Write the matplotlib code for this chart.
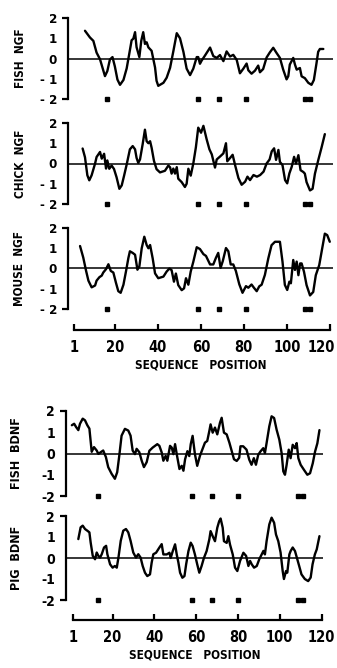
import matplotlib
matplotlib.use('Agg')
import matplotlib.pyplot as plt
import matplotlib.transforms as mtransforms

# ---------------- data ----------------
fish_ngf_pos = [6.1, 8.4, 10.0, 11.5, 13.1, 15.4, 16.5, 17.7, 18.9, 20.0, 21.2, 22.4, 24.0, 25.5, 27.0,
                27.8, 28.6, 29.4, 30.1, 31.4, 32.3, 33.2, 34.0, 34.8, 35.6, 37.1, 38.7, 39.4, 40.2, 42.6,
                44.1, 45.7, 47.2, 48.8, 50.3, 51.9, 53.4, 55.0, 56.5, 58.1, 58.8, 59.6, 60.4, 61.9, 64.3,
                65.8, 67.4, 68.9, 70.5, 72.0, 73.6, 75.1, 76.7, 78.2, 79.8, 81.3, 82.1, 83.6, 85.2, 86.7,
                87.5, 89.0, 90.6, 92.1, 93.7, 95.2, 96.8, 98.3, 99.9, 100.7, 101.4, 103.0, 103.8, 104.6,
                106.1, 106.9, 108.4, 110.0, 111.5, 112.6, 113.8, 114.6, 115.4, 117.0]
fish_ngf_val = [1.37, 1.04, 0.87, 0.29, -0.04, -0.87, -0.62, -0.05, 0.07, -0.39, -1.04, -1.30, -1.06, -0.49, 0.41,
                0.90, 0.98, 1.30, 0.56, 0.07, 0.88, 1.30, 0.72, 0.80, 0.55, 0.38, -0.44, -1.10, -1.35, -1.20,
                -0.95, -0.46, 0.35, 1.25, 1.00, 0.33, -0.50, -0.82, -0.50, 0.07, 0.07, -0.26, -0.10, 0.14, 0.54,
                0.12, 0.03, 0.17, -0.13, 0.35, 0.10, 0.18, -0.07, -0.73, -0.50, -0.25, -0.58, -0.75, -0.60, -0.35,
                -0.68, -0.52, 0.05, 0.30, 0.53, 0.28, 0.03, -0.54, -1.03, -0.87, -0.30, 0.03, -0.30, -0.55,
                -0.47, -0.88, -0.97, -1.20, -1.30, -1.06, -0.25, 0.33, 0.47, 0.47]

chick_ngf_pos = [5.0, 6.1, 7.2, 8.1, 9.2, 10.8, 11.5, 13.1, 13.9, 15.0,
                 15.9, 16.5, 17.4, 18.5, 19.6, 20.8, 22.1, 23.2, 24.3, 25.5,
                 27.0, 28.3, 29.4, 30.1, 30.9, 31.7, 32.9, 34.0, 34.8, 35.6,
                 36.4, 37.1, 38.2, 39.4, 41.0, 43.3, 44.9, 45.7, 46.4, 47.2,
                 48.0, 48.8, 49.5, 51.1, 52.6, 53.4, 54.2, 55.3, 56.5, 57.7,
                 58.8, 60.1, 61.2, 62.7, 64.0, 65.1, 66.6, 67.4, 69.0, 70.5,
                 71.7, 72.3, 73.6, 74.8, 75.9, 77.5, 79.0, 80.6, 81.7, 82.9,
                 84.5, 86.1, 87.6, 89.2, 90.6, 92.0, 93.0, 94.1, 95.0, 96.1,
                 96.8, 98.0, 99.2, 100.2, 101.2, 102.3, 103.4, 104.3, 105.4, 106.4,
                 107.7, 108.4, 109.2, 110.8, 112.0, 113.1, 114.6, 116.2, 117.7]
chick_ngf_val = [0.74, 0.31, -0.58, -0.83, -0.58, 0.0, 0.32, 0.57, 0.24, 0.48,
                 -0.25, 0.15, -0.26, -0.10, -0.27, -0.68, -1.25, -1.08, -0.60, -0.05,
                 0.70, 0.86, 0.70, 0.28, 0.03, 0.20, 0.93, 1.67, 1.10, 1.00,
                 1.10, 0.78, 0.13, -0.28, -0.44, -0.36, -0.10, -0.19, -0.50, -0.25,
                 -0.50, -0.18, -0.75, -0.92, -1.16, -1.00, -0.26, -0.60, 0.0, 0.80,
                 1.77, 1.52, 1.86, 1.20, 0.70, 0.45, -0.20, 0.20, 0.35, 0.50,
                 1.00, 0.11, 0.27, 0.43, -0.06, -0.72, -1.05, -0.90, -0.65, -0.82,
                 -0.57, -0.65, -0.57, -0.40, 0.0, 0.20, 0.60, 0.75, 0.18, 0.67,
                 0.08, -0.08, -0.82, -0.98, -0.49, -0.16, 0.33, 0.0, 0.41, -0.33,
                 -0.42, -0.50, -0.92, -1.33, -1.25, -0.50, 0.15, 0.80, 1.45]

mouse_ngf_pos = [3.8, 5.3, 6.6, 7.7, 9.2, 10.8, 11.5, 12.8, 13.9, 14.6,
                 15.9, 17.0, 18.1, 19.3, 20.5, 21.6, 22.7, 24.0, 25.2, 26.3,
                 27.0, 28.3, 29.4, 30.5, 31.4, 32.5, 33.7, 34.8, 35.6, 36.4,
                 37.6, 38.7, 40.2, 42.6, 44.1, 45.4, 46.4, 47.5, 48.4, 49.5,
                 51.1, 52.2, 53.1, 54.2, 55.3, 56.5, 58.1, 59.6, 61.2, 62.4,
                 64.3, 65.8, 67.0, 68.1, 69.2, 70.2, 71.7, 72.8, 73.9, 75.1,
                 76.3, 77.9, 79.4, 81.0, 82.1, 83.6, 84.7, 86.0, 87.2, 88.3,
                 89.8, 91.4, 92.9, 94.5, 96.8, 98.0, 99.1, 100.2, 101.2, 101.9,
                 103.0, 103.8, 104.6, 105.4, 106.2, 106.9, 108.0, 109.2, 110.8, 112.3,
                 113.5, 115.1, 116.2, 117.7, 118.8, 120.0]
mouse_ngf_val = [1.11, 0.54, -0.11, -0.60, -0.93, -0.84, -0.60, -0.43, -0.35, -0.20,
                 -0.03, 0.21, -0.12, -0.20, -0.70, -1.12, -1.20, -0.80, -0.13, 0.52,
                 0.85, 0.77, 0.68, -0.06, 0.10, 1.00, 1.57, 1.16, 1.00, 1.16,
                 0.50, -0.24, -0.48, -0.40, -0.15, 0.0, -0.08, -0.65, -0.25, -0.82,
                 -1.07, -0.98, -0.48, -0.80, -0.15, 0.33, 1.05, 0.96, 0.71, 0.62,
                 0.20, 0.20, 0.52, 0.77, 0.03, 0.36, 1.01, 0.85, 0.20, 0.20,
                 -0.12, -0.78, -1.20, -0.87, -0.95, -0.79, -0.95, -1.12, -0.88, -0.80,
                 -0.32, 0.50, 1.15, 1.32, 1.32, 0.34, -0.81, -1.06, -0.65, -0.73,
                 0.42, -0.07, 0.34, -0.33, 0.25, 0.25, -0.16, -0.82, -1.33, -1.16,
                 -0.33, 0.17, 0.83, 1.72, 1.65, 1.32]

fish_bdnf_pos = [0.5, 1.6, 2.5, 3.6, 4.4, 5.7, 6.8, 7.9, 8.9, 10.0,
                 11.1, 12.4, 13.2, 14.3, 15.5, 16.8, 17.9, 19.5, 21.1, 22.2,
                 23.2, 24.3, 25.9, 27.5, 28.6, 29.6, 30.7, 31.5, 32.8, 33.9,
                 35.0, 36.3, 37.6, 39.2, 40.3, 41.4, 42.4, 43.5, 44.3, 45.4,
                 46.2, 47.5, 48.3, 49.1, 49.9, 50.7, 52.0, 53.1, 53.9, 54.7,
                 55.8, 56.7, 57.4, 58.3, 59.4, 60.5, 61.8, 63.0, 64.2, 65.3,
                 66.3, 66.9, 67.9, 69.0, 70.1, 71.4, 72.2, 73.3, 74.6, 75.9,
                 77.0, 78.1, 79.4, 80.6, 81.2, 82.5, 84.1, 85.4, 86.5, 87.6,
                 88.6, 89.7, 90.8, 92.1, 92.9, 93.7, 95.0, 96.1, 97.3, 98.5,
                 99.8, 100.9, 101.7, 102.5, 103.3, 104.3, 105.2, 106.2, 107.3, 108.1,
                 108.9, 110.0, 111.6, 113.2, 114.5, 115.8, 116.9, 118.0, 119.0]
fish_bdnf_val = [1.33, 1.40, 1.25, 1.10, 1.40, 1.64, 1.56, 1.33, 1.17, 0.08,
                 0.30, 0.14, -0.02, 0.06, 0.14, -0.17, -0.64, -0.95, -1.19, -0.88,
                 -0.10, 0.84, 1.16, 1.08, 0.84, 0.14, -0.03, 0.22, 0.06, -0.33,
                 -0.64, -0.41, 0.13, 0.28, 0.36, 0.44, 0.36, 0.05, -0.34, -0.11,
                 -0.34, 0.36, 0.28, -0.03, 0.44, -0.03, -0.73, -0.58, -0.81, -0.27,
                 0.11, -0.12, 0.44, 0.83, -0.03, -0.58, -0.11, 0.20, 0.51, 0.59,
                 1.06, 1.37, 0.98, 1.22, 0.90, 1.45, 1.68, 0.98, 0.90, 0.51,
                 0.12, -0.27, -0.35, -0.20, 0.34, 0.34, 0.18, -0.29, -0.53, -0.22,
                 -0.53, -0.06, 0.10, 0.25, 0.02, 0.49, 1.28, 1.75, 1.67, 1.12,
                 0.65, 0.02, -0.84, -1.00, -0.53, 0.18, -0.22, 0.41, 0.25, 0.49,
                 -0.22, -0.53, -0.77, -1.00, -0.93, -0.46, 0.09, 0.48, 1.10]

pig_bdnf_pos = [3.6, 4.7, 5.7, 6.8, 7.9, 8.9, 9.5, 10.5, 11.6, 12.4,
                13.2, 14.0, 14.8, 15.9, 16.9, 17.5, 18.8, 20.0, 21.1, 22.0,
                22.8, 23.9, 25.1, 26.4, 27.5, 28.6, 29.9, 31.2, 32.3, 33.4,
                34.4, 35.5, 36.6, 37.9, 38.7, 39.5, 40.8, 42.4, 43.5, 44.3,
                45.9, 47.2, 47.8, 48.8, 49.9, 50.7, 51.5, 52.3, 53.4, 54.4,
                55.2, 56.3, 57.4, 58.3, 59.4, 60.5, 61.5, 62.6, 63.7, 65.0,
                66.3, 66.9, 67.9, 69.0, 70.1, 71.0, 71.7, 72.7, 73.3, 74.6,
                75.4, 76.2, 77.5, 78.6, 79.7, 81.0, 82.6, 83.9, 85.0, 85.8,
                86.6, 87.7, 89.0, 90.2, 91.4, 92.2, 92.9, 93.7, 95.0, 96.1,
                97.3, 98.2, 99.3, 100.4, 101.4, 102.0, 103.0, 103.6, 104.6, 105.2,
                106.2, 107.3, 108.4, 109.3, 110.4, 112.0, 113.6, 114.8, 115.7, 116.8,
                117.7, 118.5, 119.0]
pig_bdnf_val = [0.90, 1.46, 1.54, 1.38, 1.30, 1.22, 0.74, 0.10, -0.06, 0.26,
                0.10, 0.02, 0.18, 0.50, 0.58, 0.18, -0.30, -0.46, -0.38, -0.46,
                0.02, 0.82, 1.30, 1.38, 1.22, 0.82, 0.26, 0.02, 0.18, 0.02,
                -0.38, -0.70, -0.86, -0.78, -0.22, 0.18, 0.25, 0.50, 0.66, 0.17,
                0.17, 0.25, 0.00, 0.33, 0.65, 0.17, -0.22, -0.70, -0.94, -0.86,
                -0.30, 0.33, 0.73, 0.57, 0.17, -0.30, -0.70, -0.38, 0.00, 0.33,
                0.89, 1.28, 1.04, 0.80, 1.44, 1.75, 1.88, 1.44, 0.80, 0.72,
                1.04, 0.64, 0.17, -0.46, -0.62, -0.14, 0.25, 0.10, -0.38, -0.14,
                -0.30, -0.46, -0.38, -0.06, 0.18, 0.34, 0.17, 0.80, 1.60, 1.92,
                1.68, 1.12, 0.80, 0.26, -0.62, -1.00, -0.62, -0.70, 0.17, 0.33,
                0.50, 0.33, -0.06, -0.38, -0.78, -1.00, -1.10, -0.93, -0.30, 0.17,
                0.41, 0.80, 1.04]

ngf_cys = [16.5, 58.8, 68.4, 80.8, 108.4, 110.8]
bdnf_cys = [12.9, 58.2, 67.8, 79.9, 108.7, 111.0]

ytick_vals = [-2, -1, 0, 1, 2]
ytick_labels_top = ['- 2', '- 1', '0', '1', '2']
ytick_labels_bot = ['-2', '-1', '0', '1', '2']
xtick_vals = [1, 20, 40, 60, 80, 100, 120]
xtick_labels = ['1', '20', '40', '60', '80', '100', '120']

# ---------------- drawing ----------------
W, H = 337, 668
plt.rcParams['font.family'] = ['DejaVu Sans']
plt.rcParams['font.weight'] = 'bold'
plt.rcParams['font.stretch'] = 'condensed'

fig = plt.figure(figsize=(W / 100, H / 100), dpi=100)
fig.patch.set_facecolor('white')


def ax_at(left, top, right, bottom):
    return fig.add_axes([left / W, 1 - bottom / H, (right - left) / W, (bottom - top) / H])


def panel(left, right, top, bottom, xlim, pos, vals, dots, label, label_x, ylabels, lsize, tsize):
    ax = ax_at(left, top, right, bottom)
    ax.set_xlim(*xlim)
    ax.set_ylim(-2, 2)
    ax.patch.set_visible(False)
    for s in ['top', 'right', 'bottom']:
        ax.spines[s].set_visible(False)
    ax.spines['left'].set_linewidth(1.6)
    ax.axhline(0, color='black', lw=1.1)
    ax.plot(pos, vals, color='black', lw=1.7, clip_on=False,
            solid_joinstyle='round', solid_capstyle='round')
    ax.plot(dots, [-2] * len(dots), 's', color='black', ms=3.0, clip_on=False)
    ax.set_xticks([])
    ax.set_yticks(ytick_vals)
    ax.set_yticklabels(ylabels)
    ax.tick_params(axis='y', length=4, width=1.6, pad=4, labelsize=tsize)
    for t in ax.yaxis.get_major_ticks()[1:4]:
        t.tick1line.set_visible(False)
    fig.text(label_x / W, 1 - (top + bottom) / 2 / H, label, rotation=90,
             ha='center', va='center', fontsize=lsize, fontweight='bold')
    return ax


def xaxis(left, right, y, xlim, size, tuck_last=False):
    ax = ax_at(left, y - 2, right, y)
    ax.set_xlim(*xlim)
    ax.set_ylim(0, 1)
    ax.patch.set_visible(False)
    for s in ['top', 'right', 'left']:
        ax.spines[s].set_visible(False)
    ax.spines['bottom'].set_linewidth(1.6)
    ax.spines['bottom'].set_bounds(1, 120)
    ax.set_xticks(xtick_vals)
    ax.set_xticklabels(xtick_labels)
    ax.set_yticks([])
    ax.tick_params(axis='x', direction='in', length=4, width=1.6, pad=7, labelsize=size)
    ax.set_xlabel('SEQUENCE   POSITION', fontsize=8.5, fontweight='bold', labelpad=3)
    if tuck_last:
        lab = ax.get_xticklabels()[-1]
        lab.set_horizontalalignment('right')
        lab.set_transform(lab.get_transform() +
                          mtransforms.ScaledTranslation(5 / 100, 0, fig.dpi_scale_trans))
    return ax


top_xlim = (-1.8, 121.5)
panel(68, 333, 18, 99, top_xlim, fish_ngf_pos, fish_ngf_val, ngf_cys, 'FISH  NGF', 20,
      ytick_labels_top, 8.5, 9.5)
panel(68, 333, 123, 204, top_xlim, chick_ngf_pos, chick_ngf_val, ngf_cys, 'CHICK  NGF', 20,
      ytick_labels_top, 8.5, 9.5)
panel(68, 333, 228, 309, top_xlim, mouse_ngf_pos, mouse_ngf_val, ngf_cys, 'MOUSE  NGF', 20,
      ytick_labels_top, 8.5, 9.5)
xaxis(68, 333, 330, top_xlim, 10.5, tuck_last=True)

bot_xlim = (-2.3, 120.7)
panel(66, 323, 411, 496, bot_xlim, fish_bdnf_pos, fish_bdnf_val, bdnf_cys, 'FISH  BDNF', 17,
      ytick_labels_bot, 9, 10)
panel(66, 323, 516, 600, bot_xlim, pig_bdnf_pos, pig_bdnf_val, bdnf_cys, 'PIG  BDNF', 17,
      ytick_labels_bot, 9, 10)
xaxis(66, 323, 620, bot_xlim, 10.5)

fig.savefig('out.png', dpi=100, facecolor='white')
